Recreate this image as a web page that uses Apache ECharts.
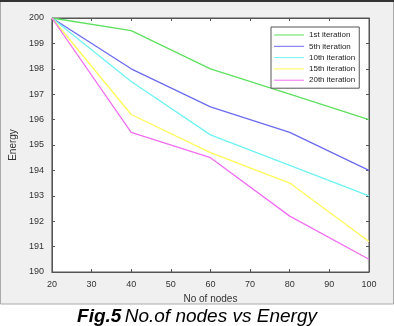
<!DOCTYPE html>
<html>
<head>
<meta charset="utf-8">
<script src="https://cdn.jsdelivr.net/npm/echarts@6/dist/echarts.min.js"></script>
<style>
html, body { margin: 0; padding: 0; background: #fff; }
#main { width: 394px; height: 326px; }
</style>
</head>
<body>
<div id="main"></div>
<script>
// data
var nodes = [20, 40, 60, 80, 100];
var iter1 = [200, 199.5, 198, 197, 196];
var iter5 = [200, 198, 196.5, 195.5, 194];
var iter10 = [200, 197.5, 195.4, 194.2, 193];
var iter15 = [200, 196.2, 194.7, 193.5, 191.2];
var iter20 = [200, 195.5, 194.5, 192.2, 190.5];
var names = ['1st iteration', '5th iteration', '10th iteration', '15th iteration', '20th iteration'];
var colors = ['#5fe05f', '#6b6bef', '#6ff2f2', '#ffff5a', '#f26ef2'];

function pairs(vals) {
    return nodes.map(function (n, i) { return [n, vals[i]]; });
}

var chart = echarts.init(document.getElementById('main'));

var tickFont = { fontSize: 9, color: '#333', fontFamily: 'Liberation Sans' };

var option = {
    backgroundColor: '#fff',
    animation: false,
    graphic: [
        // matlab figure panel
        { type: 'rect', z: -10, shape: { x: 0.5, y: 1, width: 393, height: 303 },
          style: { fill: '#f0f0f0', stroke: '#aaa', lineWidth: 1 } },
        { type: 'rect', z: -9, shape: { x: 0, y: 0, width: 394, height: 2 },
          style: { fill: '#333' } },
        { type: 'text', left: 'center', top: 307,
          style: { rich: {
                b: { fontSize: 19, fontWeight: 'bold', fontStyle: 'italic', fontFamily: 'Liberation Sans', fill: '#000' },
                n: { fontSize: 19, fontStyle: 'italic', fontFamily: 'Liberation Sans', fill: '#000' }
            }, text: '{b|Fig.5} {n|No.of nodes vs Energy}' } }
    ],
    grid: { left: 48, top: 18, right: 25, bottom: 54, show: true,
            backgroundColor: '#fff', borderColor: '#555', borderWidth: 1 },
    legend: {
        orient: 'vertical', left: 271, top: 27,
        data: names,
        backgroundColor: '#fff', borderColor: '#555', borderWidth: 1,
        padding: [4, 4, 4, 3], itemGap: 3.3,
        itemWidth: 30, itemHeight: 9,
        icon: 'path://M0,4 L30,4 L30,5 L0,5 Z',
        textStyle: { fontSize: 8, color: '#222', fontFamily: 'Liberation Sans' }
    },
    xAxis: [{
        type: 'value', min: 20, max: 100, interval: 10,
        name: 'No of nodes', nameLocation: 'middle', nameGap: 19,
        nameTextStyle: { fontSize: 10, color: '#333', fontFamily: 'Liberation Sans' },
        axisLine: { lineStyle: { color: '#555' } },
        axisTick: { inside: true, length: 3, lineStyle: { color: '#555' } },
        axisLabel: tickFont,
        splitLine: { show: false }
    }, {
        type: 'value', position: 'top', min: 20, max: 100, interval: 10,
        axisLine: { lineStyle: { color: '#555' } },
        axisTick: { inside: true, length: 3, lineStyle: { color: '#555' } },
        axisLabel: { show: false }, splitLine: { show: false }
    }],
    yAxis: [{
        type: 'value', min: 190, max: 200, interval: 1,
        name: 'Energy', nameLocation: 'middle', nameGap: 27,
        nameTextStyle: { fontSize: 10, color: '#333', fontFamily: 'Liberation Sans' },
        axisLine: { show: true, lineStyle: { color: '#555' } },
        axisTick: { show: true, inside: true, length: 3, lineStyle: { color: '#555' } },
        axisLabel: tickFont,
        splitLine: { show: false }
    }, {
        type: 'value', position: 'right', min: 190, max: 200, interval: 1,
        axisLine: { show: true, lineStyle: { color: '#555' } },
        axisTick: { show: true, inside: true, length: 3, lineStyle: { color: '#555' } },
        axisLabel: { show: false }, splitLine: { show: false }
    }],
    series: [iter1, iter5, iter10, iter15, iter20].map(function (vals, i) {
        return {
            name: names[i], type: 'line', data: pairs(vals),
            symbol: 'none', color: colors[i],
            lineStyle: { width: 1.3, color: colors[i] }
        };
    })
};

chart.setOption(option);
</script>
</body>
</html>
